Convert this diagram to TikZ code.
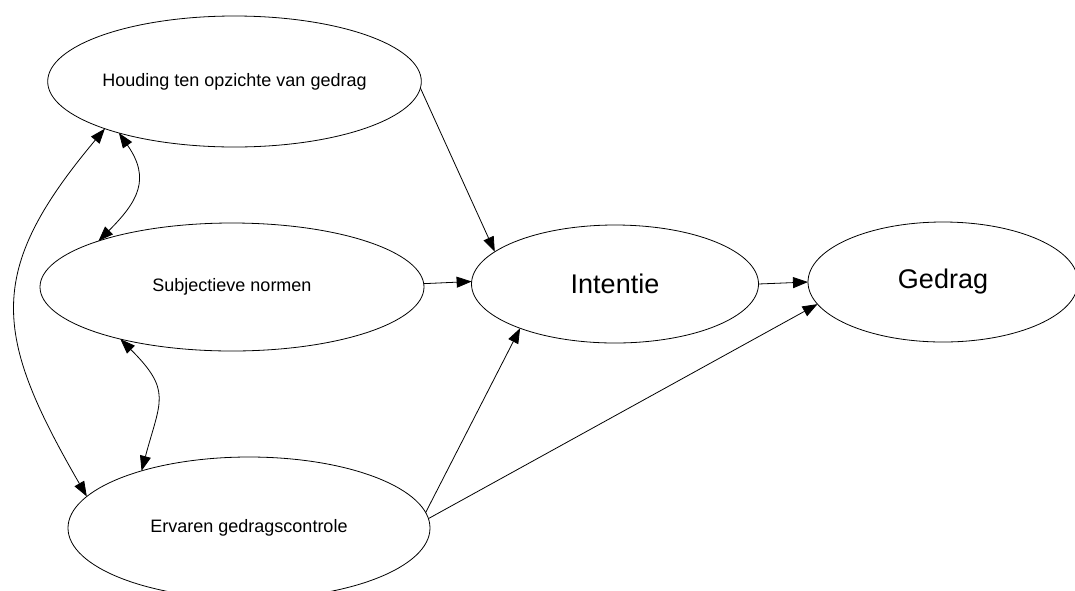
\documentclass[tikz,border=0pt]{standalone}
\usepackage{fontspec}
\setmainfont{Liberation Sans}
\usetikzlibrary{arrows.meta,shapes.geometric}

\begin{document}
\begin{tikzpicture}[x=1pt, y=-1pt,
		Construct/.style={draw, ellipse, inner sep=0pt, outer sep=0pt, line width=0.8pt, font=\fontsize{18pt}{21pt}\selectfont},
		Uitkomst/.style={Construct, font=\fontsize{27pt}{32pt}\selectfont},
		Pijl/.style={-{Triangle[length=15pt, width=11pt]}, line width=0.8pt},
		Relatie/.style={{Triangle[length=15pt, width=11pt]}-{Triangle[length=15pt, width=11pt]}, line width=0.8pt}]
		\useasboundingbox (0,0) rectangle (1075,590);
		\node[Construct, minimum width=373pt, minimum height=131pt] (houding) at (234.5,81.5) {Houding ten opzichte van gedrag};
		\node[Construct, minimum width=384pt, minimum height=128pt] (normen) at (232,287) {Subjectieve normen};
		\node[Construct, minimum width=362pt, minimum height=142pt] (controle) at (249,528) {Ervaren gedragscontrole};
		\node[Uitkomst, minimum width=287pt, minimum height=118pt] (intentie) at (615,284) {Intentie};
		\node[Uitkomst, minimum width=270pt, minimum height=120pt] (gedrag) at (943,282) {Gedrag};
		\draw[Pijl] (houding.-2) -- (intentie.165);
		\draw[Pijl] (normen.1) -- (intentie.179);
		\draw[Pijl] (controle.5) -- (intentie.205);
		\draw[Pijl] (intentie.0) -- (gedrag.180);
		\draw[Pijl] (controle.3) -- (gedrag.190);
		\draw[Relatie] (houding.204) to[out=-55, in=45, looseness=1.3] (normen.161);
		\draw[Relatie] (normen.205) to[out=-45, in=75, looseness=1.4] (controle.152);
		\draw[Relatie] (houding.200) to[out=230, in=120, looseness=1.3] (controle.169);
	\end{tikzpicture}
\end{document}
